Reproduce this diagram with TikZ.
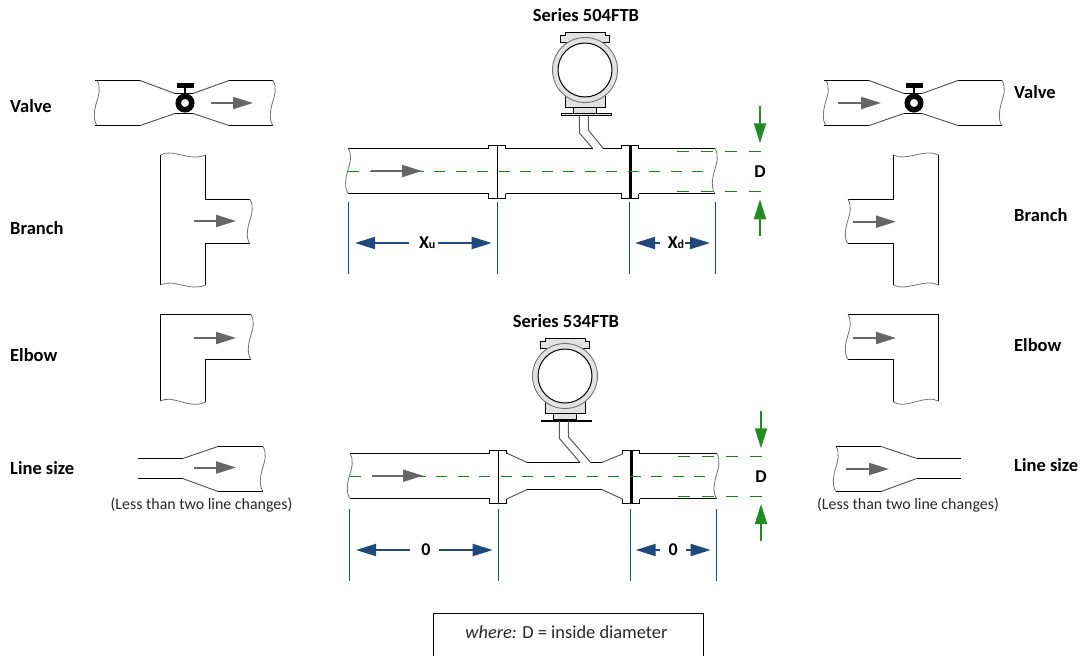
\documentclass[tikz,border=0pt]{standalone}
\usepackage{fontspec}
\setmainfont{Carlito}
\usetikzlibrary{arrows.meta}
\definecolor{dimblue}{HTML}{1F497D}
\definecolor{dimgreen}{HTML}{228B22}
\definecolor{flowgray}{HTML}{666666}
\definecolor{ringgray}{HTML}{E2E2E2}
\begin{document}
\begin{tikzpicture}[x=1pt, y=-1pt,
    pipeline/.style = {draw=black, line width=1.2pt},
    taper/.style = {draw=black!70, line width=0.9pt},
    wavy/.style = {draw=black!55, line width=0.8pt},
    seam/.style = {draw=black, line width=#1},
    stem/.style = {draw=black!65, line width=1pt},
    tick/.style = {draw=dimblue, line width=1pt},
    flowarrow/.style = {draw=flowgray, line width=2pt, -{Triangle[length=20pt, width=12pt, fill=flowgray]}},
    dimarrow/.style = {draw=dimblue, line width=2pt, -{Triangle[length=20pt, width=12pt, fill=dimblue]}},
    sizearrow/.style = {draw=dimgreen, line width=2pt, -{Triangle[length=20pt, width=12pt, fill=dimgreen]}},
    centerdash/.style = {draw=dimgreen!90!black, line width=1pt, dash pattern=on 11pt off 10.5pt},
    sizedash/.style = {draw=dimgreen!90!black, line width=1pt, dash pattern=on 12pt off 12pt},
    sidelabel/.style = {anchor=west, inner sep=0pt, font=\fontsize{18.5}{18.5}\selectfont\bfseries},
    title/.style = {inner sep=0pt, font=\fontsize{18.5}{18.5}\selectfont\bfseries},
    dimlabel/.style = {inner sep=0pt, minimum height=12pt, font=\fontsize{18}{18}\selectfont\bfseries},
    note/.style = {inner sep=0pt, font=\fontsize{15.9}{16}\selectfont, text=black!85},
    pics/pipeend/.style = {code={
        \draw[wavy] (0,0) .. controls (4,7) and (2,14) .. (-0.5,22) .. controls (-3,30) and (-4,40) .. (0,#1);
    }},
    pics/flow/.style = {code={
        \draw[flowarrow] (0,0) -- (#1,0);
    }},
    pics/flange/.style = {code={
        \draw[pipeline] (-8.5,0) -- (-8.5,-3) -- (8.5,-3) -- (8.5,0);
        \draw[pipeline] (-8.5,45) -- (-8.5,50) -- (8.5,50) -- (8.5,45);
        \draw[seam=#1] (0.5,-3) -- (0.5,50);
    }},
    pics/valve/.style = {code={
        \draw[pipeline] (-90,-22.5) -- (-45,-22.5);
        \draw[pipeline] (-90,22.5) -- (-45,22.5);
        \draw[pipeline] (44,-22.5) -- (88,-22.5);
        \draw[pipeline] (44,22.5) -- (88,22.5);
        \draw[taper] (-45,-22.5) -- (-10,-9.5) (8,-9.5) -- (44,-22.5);
        \draw[taper] (-45,22.5) -- (-10,10.5) (8,10.5) -- (44,22.5);
        \draw[pipeline] (-10,-9.5) -- (8,-9.5) (-10,10.5) -- (8,10.5);
        \draw[line width=5.5pt] (0,0) circle[radius=6.75pt];
        \draw[line width=2pt] (0,-18) -- (0,-9);
        \fill (-8.5,-20) rectangle (8.5,-15);
        \pic at (-88,-22.5) {pipeend=45};
        \pic at (88,-22.5) {pipeend=45};
    }},
    pics/meter/.style = {code={
        \draw[pipeline, fill=ringgray, line width=0.9pt] (-20,25) rectangle (20,37.3);
        \draw[pipeline, fill=ringgray, line width=0.9pt] (-11.7,37.3) rectangle (11.7,43.7);
        \draw[pipeline, fill=ringgray, line width=0.9pt] (-20,-34.5) -- (-20,-37.7) -- (20,-37.7) -- (20,-34.5) -- (24.5,-34.5) -- (24.5,-27.3) -- (-25,-27.3) -- (-25,-34.5) -- cycle;
        \draw[draw=black!55, fill=ringgray, line width=0.9pt] (0,0) circle[radius=32.5pt];
        \draw[pipeline, fill=white, line width=1pt] (0,0) circle[radius=27pt];
    }}]
    \useasboundingbox (0,0) rectangle (1083,656);

    % left column
    \node[sidelabel] (valveLeftLabel) at (10,106) {Valve};
    \node[sidelabel] (branchLeftLabel) at (10,228) {Branch};
    \node[sidelabel] (elbowLeftLabel) at (10,355) {Elbow};
    \node[sidelabel] (sizeLeftLabel) at (10,468) {Line size};
    \pic at (185,103) {valve};
    \pic at (211,103) {flow=42};
    \draw[pipeline] (205.5,155) -- (205.5,199.5) -- (250,199.5) (250,243.5) -- (205.5,243.5) -- (205.5,285);
    \draw[pipeline] (160.5,155) -- (160.5,285);
    \draw[wavy] (160.5,155) .. controls (172,148) and (190,162) .. (205.5,155);
    \draw[wavy] (160.5,285) .. controls (172,278) and (190,292) .. (205.5,285);
    \pic at (250,199.5) {pipeend=44};
    \pic at (194,221) {flow=42};
    \draw[pipeline] (251,314.5) -- (160.5,314.5) -- (160.5,401);
    \draw[pipeline] (251,359.5) -- (205.5,359.5) -- (205.5,402);
    \draw[wavy] (160.5,401) .. controls (172,394) and (190,410) .. (205.5,402);
    \pic at (251,314.5) {pipeend=45};
    \pic at (194,338) {flow=42};
    \draw[pipeline] (138,458.5) -- (182.7,458.5) (138,478.5) -- (182.7,478.5);
    \draw[taper] (182.7,458.5) -- (218,446.5) (182.7,478.5) -- (218,491.5);
    \draw[pipeline] (218,446.5) -- (263,446.5) (218,491.5) -- (263,491.5);
    \pic at (263,446.5) {pipeend=45};
    \pic at (194,467.5) {flow=42};
    \node[note] (sizeLeftNote) at (201.5,505) {(Less than two line changes)};

    % upper pipe
    \node[title] (upperTitle) at (586,15) {Series 504FTB};
    \pic at (585,70) {meter};
    \draw[draw=black, fill=ringgray, line width=0.8pt] (561.3,113.7) rectangle (611.7,115.7);
    \draw[stem] (579.3,115.7) -- (579.3,132.7) -- (592.7,148.5);
    \draw[stem] (588.3,115.7) -- (588.3,130) -- (603.3,148.5);
    \draw[pipeline] (348.3,148.5) -- (488.5,148.5) (505.5,148.5) -- (592.7,148.5) (603.3,148.5) -- (621.5,148.5) (638.5,148.5) -- (715,148.5);
    \draw[pipeline] (348.3,193.5) -- (488.5,193.5) (505.5,193.5) -- (621.5,193.5) (638.5,193.5) -- (715,193.5);
    \pic at (497,148.5) {flange=1.2pt};
    \pic at (630,148.5) {flange=2.5pt};
    \pic at (348.3,148.5) {pipeend=45};
    \pic at (715,148.5) {pipeend=45};
    \draw[centerdash] (348.3,171.5) -- (712,171.5);
    \draw[sizedash] (676.7,151.5) -- (772,151.5);
    \draw[sizedash] (676.7,191.5) -- (772,191.5);
    \pic at (371,171) {flow=51};
    \foreach \xpos in {348.5,497.5,629.5,715.5}
        \draw[tick] (\xpos,202.3) -- (\xpos,273.5);
    \node[dimlabel, minimum width=29pt] (xuLabel) at (423.7,243) {\hspace*{7pt}X{\fontsize{12}{12}\selectfont u}};
    \coordinate (xuLeft) at (355,243);
    \coordinate (xuRight) at (491.7,243);
    \draw[dimarrow] (xuLabel.west) -- (xuLeft);
    \draw[dimarrow] (xuLabel.east) -- (xuRight);
    \node[dimlabel, minimum width=25pt] (xdLabel) at (672.5,243) {\hspace*{7pt}X{\fontsize{12}{12}\selectfont d}};
    \coordinate (xdLeft) at (635,243);
    \coordinate (xdRight) at (710,243);
    \draw[dimarrow] (xdLabel.west) -- (xdLeft);
    \draw[dimarrow] (xdLabel.east) -- (xdRight);
    \node[dimlabel] (upperSize) at (760,171.5) {D};
    \coordinate (upperSizeTop) at (760,106);
    \coordinate (upperSizeTopTip) at (760,143.3);
    \coordinate (upperSizeBottom) at (760,236);
    \coordinate (upperSizeBottomTip) at (760,199.3);
    \draw[sizearrow] (upperSizeTop) -- (upperSizeTopTip);
    \draw[sizearrow] (upperSizeBottom) -- (upperSizeBottomTip);

    % lower pipe
    \node[title] (lowerTitle) at (566,321) {Series 534FTB};
    \pic at (565,376) {meter};
    \draw[draw=black, line width=2pt] (541.3,420.7) -- (591.7,420.7);
    \draw[stem] (559.3,421) -- (559.3,438.3) -- (580,462.5);
    \draw[stem] (568.3,421) -- (568.3,436.7) -- (590.7,462.5);
    \draw[pipeline] (350,453.5) -- (489.5,453.5) (639.5,453.5) -- (716.7,453.5);
    \draw[pipeline] (350,498.5) -- (489.5,498.5) (639.5,498.5) -- (716.7,498.5);
    \draw[taper] (506.5,453) -- (527.3,462.5) (601.7,462.5) -- (622.5,454);
    \draw[taper] (506.5,499) -- (527.3,489.5) (601.7,489.5) -- (622.5,499);
    \draw[pipeline] (527.3,462.5) -- (580,462.5) (590.7,462.5) -- (601.7,462.5) (527.3,489.5) -- (601.7,489.5);
    \pic at (498,453.5) {flange=1.2pt};
    \pic at (631,453.5) {flange=2.5pt};
    \pic at (350,453.5) {pipeend=45};
    \pic at (716.7,453.5) {pipeend=45};
    \draw[centerdash] (350,476.5) -- (712,476.5);
    \draw[sizedash] (678.3,456.5) -- (773,456.5);
    \draw[sizedash] (678.3,496.5) -- (773,496.5);
    \pic at (372,475.7) {flow=51};
    \foreach \xpos in {349.5,498.5,630.5,716.5}
        \draw[tick] (\xpos,509) -- (\xpos,580.7);
    \node[dimlabel, minimum width=29pt] (leftZero) at (424.5,550) {\hspace*{3pt}0};
    \coordinate (leftZeroLeft) at (356,550);
    \coordinate (leftZeroRight) at (492.7,550);
    \draw[dimarrow] (leftZero.west) -- (leftZeroLeft);
    \draw[dimarrow] (leftZero.east) -- (leftZeroRight);
    \node[dimlabel, minimum width=25.3pt] (rightZero) at (673.3,550) {0};
    \coordinate (rightZeroLeft) at (635.7,550);
    \coordinate (rightZeroRight) at (710.7,550);
    \draw[dimarrow] (rightZero.west) -- (rightZeroLeft);
    \draw[dimarrow] (rightZero.east) -- (rightZeroRight);
    \node[dimlabel] (lowerSize) at (761,477) {D};
    \coordinate (lowerSizeTop) at (761,411);
    \coordinate (lowerSizeTopTip) at (761,448.3);
    \coordinate (lowerSizeBottom) at (761,540.7);
    \coordinate (lowerSizeBottomTip) at (761,504);
    \draw[sizearrow] (lowerSizeTop) -- (lowerSizeTopTip);
    \draw[sizearrow] (lowerSizeBottom) -- (lowerSizeBottomTip);

    % right column
    \node[sidelabel] (valveRightLabel) at (1014,92) {Valve};
    \node[sidelabel] (branchRightLabel) at (1014,215) {Branch};
    \node[sidelabel] (elbowRightLabel) at (1014,345) {Elbow};
    \node[sidelabel] (sizeRightLabel) at (1014,465) {Line size};
    \pic at (914,103) {valve};
    \pic at (838,103) {flow=43};
    \draw[pipeline] (893.5,155) -- (893.5,199.5) -- (848,199.5) (848,243.5) -- (893.5,243.5) -- (893.5,285);
    \draw[pipeline] (938.5,155) -- (938.5,285);
    \draw[wavy] (893.5,155) .. controls (905,162) and (925,148) .. (938.5,155);
    \draw[wavy] (893.5,285) .. controls (905,292) and (925,278) .. (938.5,285);
    \pic at (848,199.5) {pipeend=44};
    \pic at (853,221.7) {flow=43};
    \draw[pipeline] (848,314.5) -- (938.5,314.5) -- (938.5,401);
    \draw[pipeline] (848,359.5) -- (893.5,359.5) -- (893.5,402);
    \draw[wavy] (893.5,402) .. controls (905,410) and (925,394) .. (938.5,401);
    \pic at (848,314.5) {pipeend=45};
    \pic at (853,338) {flow=43};
    \draw[pipeline] (836,446.5) -- (881,446.5) (836,491.5) -- (881,491.5);
    \draw[taper] (881,446.5) -- (916.7,458.5) (881,491.5) -- (916.7,478.5);
    \draw[pipeline] (916.7,458.5) -- (960.7,458.5) (916.7,478.5) -- (960.7,478.5);
    \pic at (836,446.5) {pipeend=45};
    \pic at (846,469) {flow=43};
    \node[note] (sizeRightNote) at (908,505) {(Less than two line changes)};

    % where box
    \draw[draw=black, line width=1pt] (433.5,656) -- (433.5,613.5) -- (703.5,613.5) -- (703.5,656);
    \node[inner sep=0pt, font=\fontsize{18.4}{18.4}\selectfont, text=black!85] (whereNote) at (566.5,632) {\textit{where:} D = inside diameter};
\end{tikzpicture}
\end{document}
